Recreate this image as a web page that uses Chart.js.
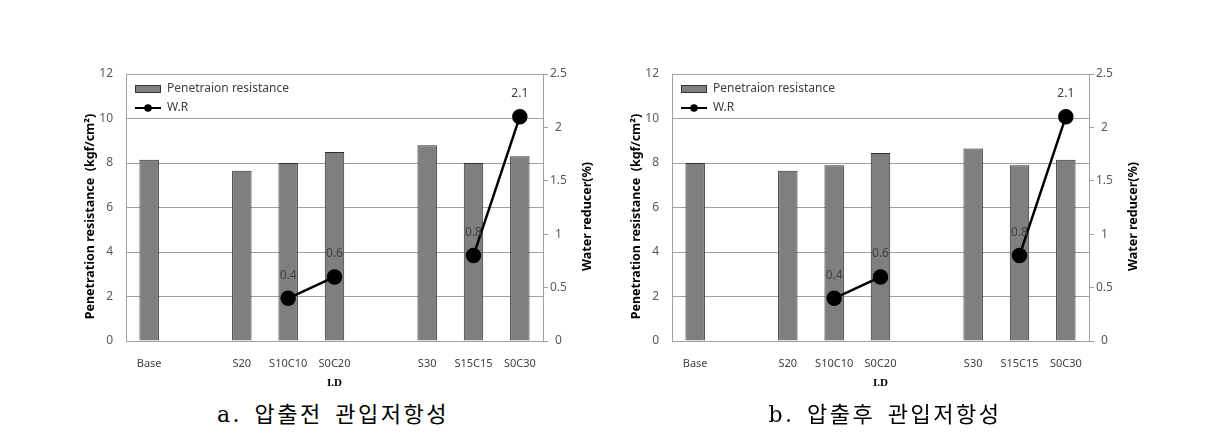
<!DOCTYPE html>
<html>
<head>
<meta charset="utf-8">
<script src="https://cdn.jsdelivr.net/npm/chart.js@4/dist/chart.umd.min.js"></script>
<style>
body { margin: 0; background: #fff; width: 1220px; height: 447px; position: relative; overflow: hidden; }
.box { position: absolute; top: 60px; width: 580px; height: 335px; }
.cap { position: absolute; top: 396px; width: 440px; text-align: center; color: #000;
       font: 22px "DejaVu Serif", "Noto Sans CJK KR", serif; letter-spacing: 2.5px; word-spacing: 3px; }
</style>
</head>
<body>
<div class="box" style="left:40px"><canvas id="chartA"></canvas></div>
<div class="box" style="left:586px"><canvas id="chartB"></canvas></div>
<div class="cap" style="left:113px">a. 압출전 관입저항성</div>
<div class="cap" style="left:665px">b. 압출후 관입저항성</div>

<script>
// ---- data ----
var categories = ['Base', '', 'S20', 'S10C10', 'S0C20', '', 'S30', 'S15C15', 'S0C30'];
var resistanceBefore = [8.15, null, 7.65, 8.0, 8.5, null, 8.8, 8.0, 8.3];
var resistanceAfter = [8.0, null, 7.65, 7.9, 8.45, null, 8.65, 7.9, 8.15];
var waterReducer = [null, null, null, 0.4, 0.6, null, null, 0.8, 2.1];

var barLabel = 'Penetraion resistance';
var lineLabel = 'W.R';
var leftTitle = 'Penetration resistance  (kgf/cm\u00b2)';
var rightTitle = 'Water reducer(%)';
var xTitle = 'I.D';

var gridColor = '#a0a0a0';
var tickColor = '#595959';

Chart.defaults.font.family = '"Noto Sans", sans-serif';

// small legend swatches, drawn like the spreadsheet ones
function makeSwatch(kind) {
    var c = document.createElement('canvas');
    c.width = 26; c.height = 10;
    var g = c.getContext('2d');
    if (kind == 'bar') {
        g.fillStyle = '#7f7f7f';
        g.fillRect(0.5, 1.5, 25, 7);
        g.strokeStyle = '#333';
        g.lineWidth = 1;
        g.strokeRect(0.5, 1.5, 25, 7);
    } else {
        g.strokeStyle = '#000';
        g.lineWidth = 2;
        g.beginPath(); g.moveTo(0, 5); g.lineTo(26, 5); g.stroke();
        g.fillStyle = '#000';
        g.beginPath(); g.arc(13, 5, 3.8, 0, Math.PI * 2); g.fill();
    }
    return c;
}
var barSwatch = makeSwatch('bar');
var lineSwatch = makeSwatch('line');

// value labels over the W.R points, the two vertical axis titles,
// and a nudge so the legend sits inside the plot like the original
var extrasPlugin = {
    id: 'extras',
    afterLayout: function (chart) {
        var lg = chart.legend;
        lg.top = chart.chartArea.top + 2;
        lg.left = chart.chartArea.left + 2;
    },
    afterDatasetsDraw: function (chart) {
        var ctx = chart.ctx;
        var meta = chart.getDatasetMeta(0);
        var values = chart.data.datasets[0].data;
        ctx.save();
        ctx.font = '12px "Noto Sans", sans-serif';
        ctx.fillStyle = '#404040';
        ctx.textAlign = 'center';
        ctx.textBaseline = 'middle';
        meta.data.forEach(function (pt, i) {
            if (values[i] == null) return;
            ctx.fillText(String(values[i]), pt.x, pt.y - 23);
        });
        ctx.restore();
    },
    afterDraw: function (chart) {
        var ctx = chart.ctx;
        var area = chart.chartArea;
        var midY = (area.top + area.bottom) / 2 + 9;
        ctx.save();
        ctx.fillStyle = '#000';
        ctx.font = 'bold 12.5px "Noto Sans", sans-serif';
        ctx.textAlign = 'center';
        ctx.textBaseline = 'middle';

        ctx.save();
        ctx.translate(area.left - 36, midY);
        ctx.rotate(-Math.PI / 2);
        ctx.fillText(leftTitle, 0, 0);
        ctx.restore();

        ctx.save();
        ctx.translate(area.right + 44, midY);
        ctx.rotate(-Math.PI / 2);
        ctx.fillText(rightTitle, 0, 0);
        ctx.restore();

        ctx.restore();
    }
};

function buildChart(id, resistance) {
    return new Chart(document.getElementById(id), {
        type: 'bar',
        data: {
            labels: categories,
            datasets: [{
                type: 'line',
                label: lineLabel,
                data: waterReducer,
                yAxisID: 'y1',
                borderColor: '#000',
                backgroundColor: '#000',
                borderWidth: 2.5,
                pointRadius: 6.5,
                pointBackgroundColor: '#000',
                pointBorderColor: '#000',
                spanGaps: false,
                order: 0
            }, {
                type: 'bar',
                label: barLabel,
                data: resistance,
                yAxisID: 'y',
                backgroundColor: '#7f7f7f',
                borderColor: '#2e2e2e',
                borderWidth: 1,
                barPercentage: 0.42,
                categoryPercentage: 1,
                order: 1
            }]
        },
        options: {
            responsive: true,
            maintainAspectRatio: false,
            animation: false,
            layout: { padding: { top: 14, left: 0, right: 0, bottom: 0 } },
            plugins: {
                tooltip: { enabled: false },
                legend: {
                    position: 'chartArea',
                    align: 'start',
                    labels: {
                        usePointStyle: true,
                        pointStyleWidth: 26,
                        boxHeight: 12,
                        padding: 7,
                        color: '#404040',
                        font: { size: 12 },
                        generateLabels: function () {
                            return [
                                { text: barLabel, pointStyle: barSwatch, fontColor: '#404040', hidden: false, datasetIndex: 1, lineWidth: 0 },
                                { text: lineLabel, pointStyle: lineSwatch, fontColor: '#404040', hidden: false, datasetIndex: 0, lineWidth: 0 }
                            ];
                        }
                    }
                }
            },
            scales: {
                x: {
                    grid: { display: false },
                    border: { display: true, color: gridColor },
                    ticks: { color: '#404040', font: { size: 11 }, padding: 8, autoSkip: false, maxRotation: 0 },
                    title: { display: true, text: xTitle, color: '#000',
                             font: { family: '"Liberation Serif", serif', size: 11, weight: 'bold' },
                             padding: { top: 0, bottom: 5 } },
                    afterFit: function (s) { s.height = 54; }
                },
                y: {
                    position: 'left',
                    min: 0, max: 12,
                    ticks: { stepSize: 2, color: tickColor, font: { size: 12 }, padding: 13 },
                    grid: { color: gridColor, drawTicks: false },
                    border: { color: gridColor },
                    afterFit: function (s) { s.width = 86; s.paddingTop = 7; s.paddingBottom = 7; }
                },
                y1: {
                    position: 'right',
                    min: 0, max: 2.5,
                    ticks: {
                        stepSize: 0.5, color: tickColor, font: { size: 12 }, padding: 2, crossAlign: 'center',
                        callback: function (v) { return String(Math.round(v * 10) / 10); }
                    },
                    grid: { drawOnChartArea: false, drawTicks: true, tickLength: 5, color: gridColor },
                    border: { color: gridColor },
                    afterFit: function (s) { s.width = 77; s.paddingTop = 7; s.paddingBottom = 7; }
                }
            }
        },
        plugins: [extrasPlugin]
    });
}

var chartA = buildChart('chartA', resistanceBefore);
var chartB = buildChart('chartB', resistanceAfter);
</script>
</body>
</html>
